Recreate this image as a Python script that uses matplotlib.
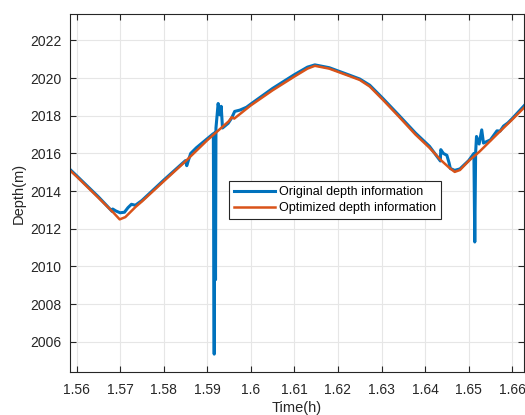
import matplotlib
matplotlib.use('Agg')
import matplotlib.pyplot as plt

# optimized depth (orange)
t_opt = [1.5585, 1.5600, 1.5650, 1.5685, 1.5699, 1.5712, 1.5735, 1.5750, 1.5800, 1.5850,
         1.5900, 1.5950, 1.5956, 1.5962, 1.6000, 1.6050, 1.6100, 1.6130, 1.6147, 1.6180,
         1.6227, 1.6250, 1.6273, 1.6303, 1.6340, 1.6378, 1.6410, 1.6436, 1.6455, 1.6468,
         1.6480, 1.6500, 1.6525, 1.6571, 1.6600, 1.6628]
y_opt = [2015.10, 2014.78, 2013.65, 2012.85, 2012.50, 2012.62, 2013.15, 2013.45, 2014.52, 2015.58,
         2016.70, 2017.72, 2017.92, 2017.85, 2018.55, 2019.35, 2020.08, 2020.50, 2020.65, 2020.50,
         2020.10, 2019.90, 2019.55, 2018.85, 2017.95, 2017.00, 2016.30, 2015.65, 2015.25, 2015.02,
         2015.12, 2015.60, 2016.10, 2017.15, 2017.80, 2018.45]

# original depth (blue)
t_org = [1.5585, 1.5600, 1.5650, 1.5682, 1.5683, 1.5690, 1.5700, 1.5710, 1.5718, 1.5726,
         1.5735, 1.5750, 1.5800, 1.5850, 1.5853, 1.5857, 1.5862, 1.5875, 1.5900, 1.5914,
         1.5916, 1.5917, 1.5919, 1.5920, 1.5925, 1.5929, 1.5932, 1.5935, 1.5948, 1.5956,
         1.5963, 1.5975, 1.5990, 1.6000, 1.6050, 1.6100, 1.6130, 1.6147, 1.6180, 1.6227,
         1.6250, 1.6273, 1.6303, 1.6340, 1.6378, 1.6410, 1.6435, 1.6436, 1.6442, 1.6450,
         1.6455, 1.6458, 1.6468, 1.6480, 1.6500, 1.6512, 1.6514, 1.6516, 1.6518, 1.6524,
         1.6530, 1.6534, 1.6550, 1.6565, 1.6572, 1.6580, 1.6590, 1.6600, 1.6628]
y_org = [2015.15, 2014.82, 2013.70, 2012.92, 2013.05, 2012.95, 2012.85, 2012.88, 2013.12, 2013.30,
         2013.25, 2013.50, 2014.58, 2015.62, 2015.35, 2015.65, 2016.00, 2016.30, 2016.78, 2017.05,
         2005.35, 2017.10, 2009.30, 2017.35, 2018.65, 2018.05, 2018.50, 2017.35, 2017.60, 2017.88,
         2018.23, 2018.30, 2018.45, 2018.62, 2019.45, 2020.18, 2020.58, 2020.70, 2020.55, 2020.15,
         2019.95, 2019.62, 2018.92, 2018.02, 2017.08, 2016.38, 2015.60, 2016.20, 2016.00, 2015.90,
         2015.50, 2015.20, 2015.10, 2015.18, 2015.62, 2016.00, 2011.30, 2016.05, 2016.90, 2016.50,
         2017.25, 2016.55, 2016.72, 2017.20, 2017.18, 2017.45, 2017.62, 2017.85, 2018.55]

x_ticks = [1.56, 1.57, 1.58, 1.59, 1.60, 1.61, 1.62, 1.63, 1.64, 1.65, 1.66]
x_labels = ['1.56', '1.57', '1.58', '1.59', '1.6', '1.61', '1.62', '1.63', '1.64', '1.65', '1.66']
y_ticks = [2006, 2008, 2010, 2012, 2014, 2016, 2018, 2020, 2022]

plt.rcParams['font.family'] = ['Liberation Sans', 'DejaVu Sans']
dark = '#262626'

fig = plt.figure(figsize=(5.25, 4.15), dpi=100)
ax = fig.add_axes([70/525, 43/415, 454/525, 358/415])

ax.plot(t_org, y_org, color='#0072BD', lw=2.2, label='Original depth information')
ax.plot(t_opt, y_opt, color='#D95319', lw=1.8, label='Optimized depth information')

ax.set_xlim(1.5585, 1.6627)
ax.set_ylim(2004.4, 2023.4)
ax.set_xticks(x_ticks)
ax.set_xticklabels(x_labels)
ax.set_yticks(y_ticks)
ax.grid(True, color='#e6e6e6', lw=0.8)
ax.set_axisbelow(True)
ax.tick_params(direction='in', top=True, right=True, length=4, width=0.8,
               labelsize=10, colors=dark, pad=6)
ax.tick_params(axis='x', pad=8)
for s in ax.spines.values():
    s.set_color(dark)
    s.set_linewidth(0.8)

ax.set_xlabel('Time(h)', fontsize=10.5, color=dark, labelpad=3)
ax.set_ylabel('Depth(m)', fontsize=10.5, color=dark, labelpad=3)

leg = ax.legend(loc='lower left', bbox_to_anchor=(0.350, 0.427), borderaxespad=0,
                fontsize=9, fancybox=False, edgecolor=dark, framealpha=1,
                handlelength=3.3, labelspacing=0.3, borderpad=0.4, handletextpad=0.3)
leg.get_frame().set_linewidth(0.8)
for txt in leg.get_texts():
    txt.set_color('black')

fig.savefig('out.png', dpi=100)
